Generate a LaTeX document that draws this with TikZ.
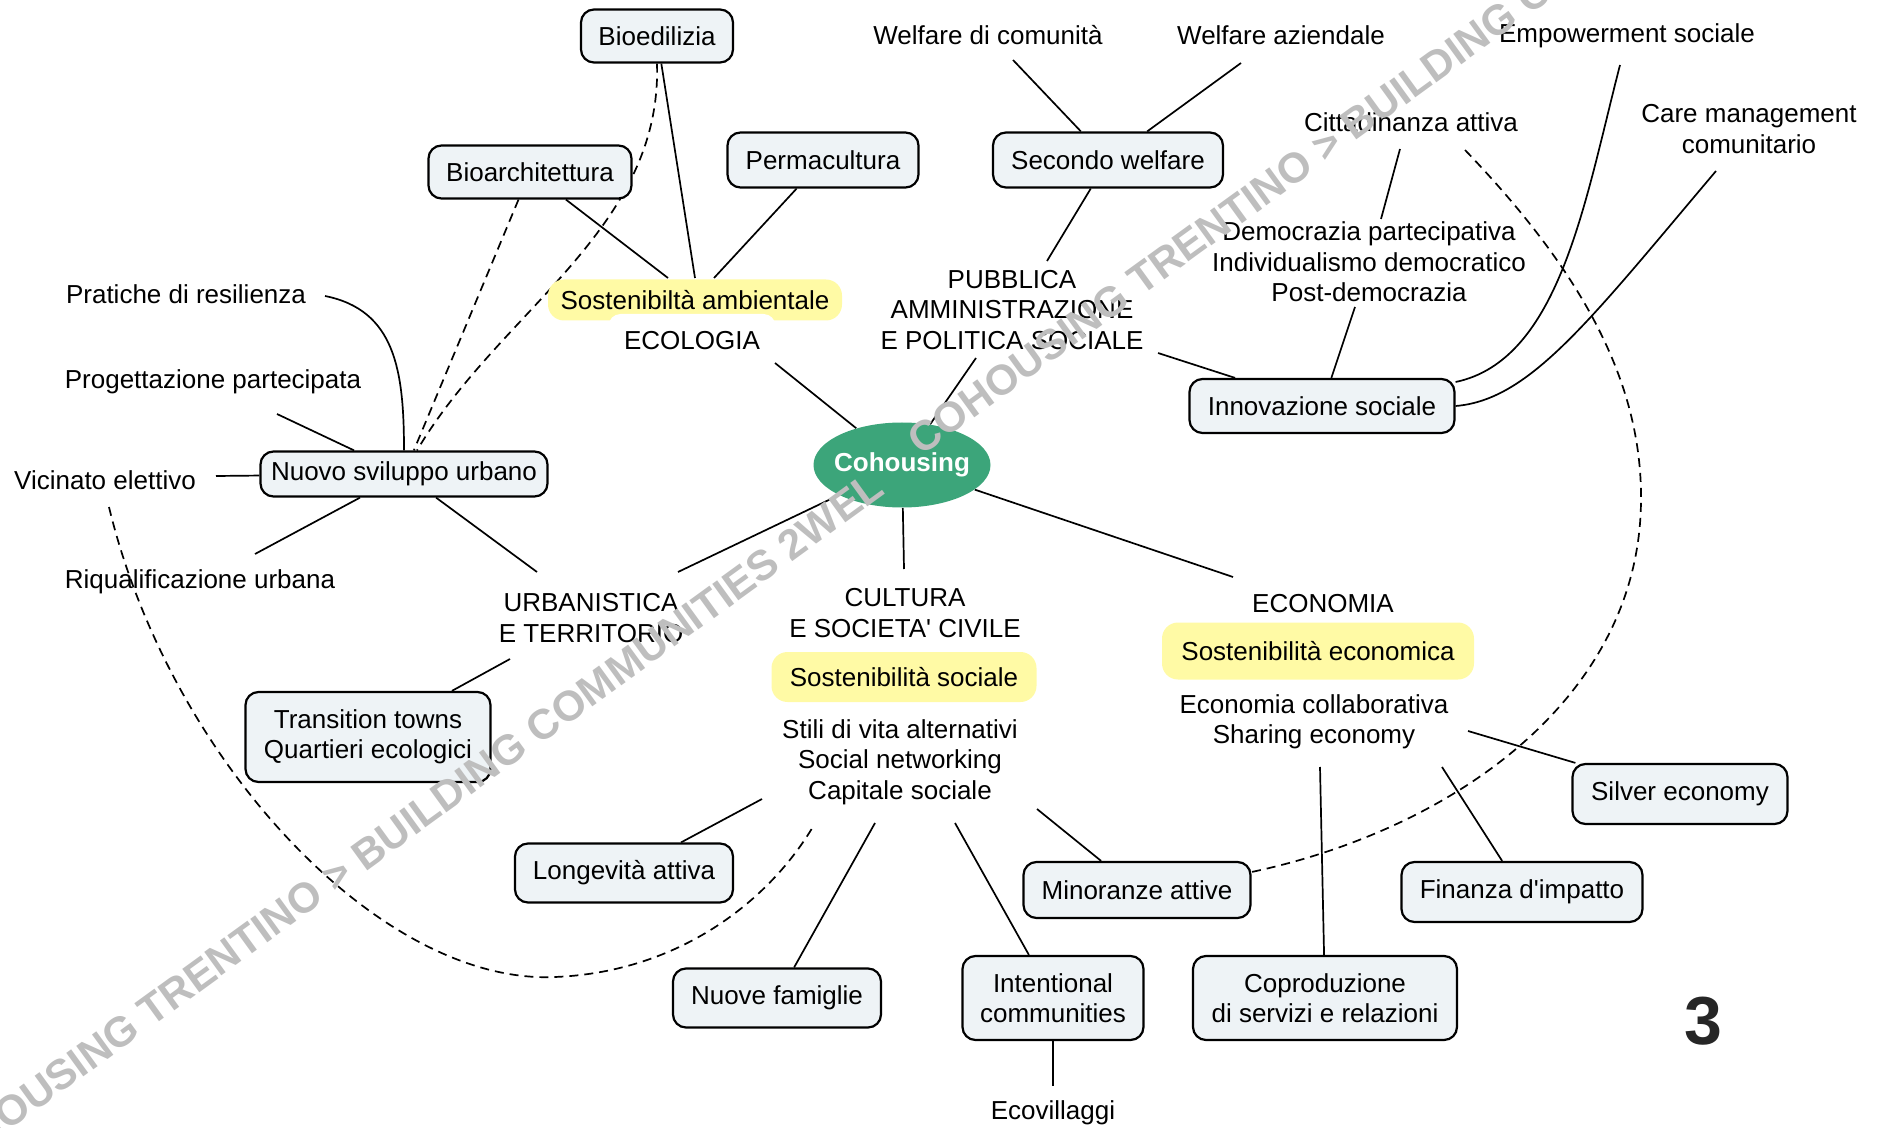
\documentclass[tikz,border=0pt]{standalone}
\usepackage{fontspec}
\setmainfont{Liberation Sans}[Ligatures=TeXOff]
\newfontfamily\wmfont{Liberation Sans}[Kerning=Off]
\usetikzlibrary{shapes.geometric,calc}
\pgfdeclarelayer{bg}
\pgfsetlayers{bg,main}
\definecolor{boxfill}{HTML}{EEF3F6}
\definecolor{hl}{HTML}{FFFAA5}
\definecolor{cohgreen}{HTML}{3CA57A}
\definecolor{wm}{HTML}{BEBEBE}
\begin{document}
\begin{tikzpicture}[x=0.5pt,y=-0.5pt,
  every node/.style={font=\fontsize{13}{15.2}\selectfont, align=center},
  box/.style={draw=black, line width=1.1pt, fill=boxfill, rounded corners=6.5pt, inner sep=0pt},
  hlbox/.style={fill=hl, rounded corners=8pt, inner sep=0pt},
  lbl/.style={inner sep=0pt},
  conn/.style={line width=0.85pt},
  dconn/.style={line width=0.85pt, dash pattern=on 4.5pt off 3pt},
  wmark/.style={text=wm, font=\wmfont\bfseries\fontsize{21.1}{25}\selectfont, rotate=36, inner sep=0pt}
]
\useasboundingbox (0,0) rectangle (1885,1128);

% boxes
\node[box, minimum width=76pt, minimum height=26.5pt] (bioed) at (657,36) {Bioedilizia};
\node[box, minimum width=101.5pt, minimum height=26.5pt] (bioar) at (530,172) {Bioarchitettura};
\node[box, minimum width=95.5pt, minimum height=27.5pt] (perma) at (823,160) {Permacultura};
\node[box, minimum width=115pt, minimum height=27.5pt] (secw) at (1108,160) {Secondo welfare};
\node[box, minimum width=132.5pt, minimum height=27pt] (innov) at (1322,406) {Innovazione sociale};
\node[box, minimum width=143.5pt, minimum height=22.5pt] (nsu) at (404,474) {Nuovo sviluppo urbano};
\node[box, minimum width=122.5pt, minimum height=45pt] (trans) at (368,737) {Transition towns\\Quartieri ecologici};
\node[box, minimum width=109pt, minimum height=29.5pt] (longev) at (624,873) {Longevità attiva};
\node[box, minimum width=104pt, minimum height=29.5pt] (nfam) at (777,998) {Nuove famiglie};
\node[box, minimum width=90.5pt, minimum height=42pt] (inten) at (1053,998) {Intentional\\communities};
\node[box, minimum width=113.5pt, minimum height=28pt] (minor) at (1137,890) {Minoranze attive};
\node[box, minimum width=132pt, minimum height=42pt] (copro) at (1325,998) {Coproduzione\\di servizi e relazioni};
\node[box, minimum width=120.5pt, minimum height=30pt] (finan) at (1522,892) {Finanza d'impatto};
\node[box, minimum width=107.5pt, minimum height=30pt] (silver) at (1680,794) {Silver economy};

% central node
\node[ellipse, fill=cohgreen, minimum width=88.5pt, minimum height=42.5pt, inner sep=0pt,
      text=white, font=\bfseries\fontsize{13}{15.2}\selectfont] (coh) at (902,465) {\makebox[0pt]{Cohousing}};

% highlighted nodes and labels
\node[hlbox, minimum width=147pt, minimum height=20.5pt] (samb) at (695,300) {Sostenibiltà ambientale};
\node[fill=white, rounded corners=6pt, minimum width=83.5pt, minimum height=27pt, inner sep=0pt] (ecol) at (692,341) {ECOLOGIA};
\node[hlbox, minimum width=132.5pt, minimum height=25pt] (ssoc) at (904,677) {Sostenibilità sociale};
\node[hlbox, minimum width=156pt, minimum height=28.5pt] (seco) at (1318,651) {Sostenibilità economica};

\node[lbl] (wcom) at (988,35) {Welfare di comunità};
\node[lbl] (waz) at (1281,35) {Welfare aziendale};
\node[lbl] (empow) at (1627,36) {Empowerment sociale};
\node[lbl] (citt) at (1411,122) {Cittadinanza attiva};
\node[lbl] (care) at (1749,129) {Care management\\comunitario};
\node[lbl] (demo) at (1369,262) {Democrazia partecipativa\\Individualismo democratico\\Post-democrazia};
\node[lbl] (pubb) at (1012,310) {PUBBLICA\\AMMINISTRAZIONE\\E POLITICA SOCIALE};
\node[lbl] (prat) at (186,294) {Pratiche di resilienza};
\node[lbl] (prog) at (213,382) {Progettazione partecipata};
\node[lbl] (vicin) at (105,480) {Vicinato elettivo};
\node[lbl] (riq) at (200,582) {Riqualificazione urbana};
\node[lbl] (urb) at (591,618) {URBANISTICA\\E TERRITORIO};
\node[lbl] (cult) at (905,613) {CULTURA\\E SOCIETA' CIVILE};
\node[lbl] (stili) at (900,762) {Stili di vita alternativi\\Social networking\\Capitale sociale};
\node[lbl] (econ) at (1323,604) {ECONOMIA};
\node[lbl] (ecoll) at (1314,722) {Economia collaborativa\\Sharing economy};
\node[lbl] (ecovil) at (1053,1113) {Ecovillaggi};
\node[font=\bfseries\fontsize{34}{40}\selectfont, text=black!85, inner sep=0pt] (num) at (1703,1021) {3};

% connectors (behind the nodes)
\begin{pgfonlayer}{bg}
\coordinate (eEco) at (775,363);
\coordinate (ePubbB) at (976,358);
\coordinate (eUrbR) at (678,572);
\coordinate (eCultT) at (904,569);
\coordinate (eEconT) at (1233,577);
\coordinate (eAmbL) at (668,278);
\coordinate (eAmbT) at (695,278);
\coordinate (eAmbR) at (714,278);
\coordinate (eWcom) at (1013,60);
\coordinate (eWaz) at (1241,63);
\coordinate (ePubbT) at (1047,261);
\coordinate (ePubbR) at (1158,353);
\coordinate (eDemoB) at (1355,307);
\coordinate (eDemoT) at (1381,219);
\coordinate (eCitt) at (1400,149);
\coordinate (eEmpow) at (1620,65);
\coordinate (eCare) at (1716,171);
\coordinate (ePrat) at (325,296);
\coordinate (eProg) at (277,414);
\coordinate (eVicin) at (216,476);
\coordinate (eRiq) at (255,554);
\coordinate (eUrbL) at (537,572);
\coordinate (eUrbB) at (510,659);
\coordinate (eSt1) at (762,799);
\coordinate (eSt2) at (875,823);
\coordinate (eSt3) at (955,823);
\coordinate (eSt4) at (1037,809);
\coordinate (eEc1) at (1320,767);
\coordinate (eEc2) at (1442,767);
\coordinate (eEc3) at (1468,731);
\coordinate (eEcovil) at (1053,1086);
\coordinate (dVicin) at (109,507);
\coordinate (dStili) at (814,825);
\coordinate (dCitt) at (1465,150);

\draw[conn] (coh) -- (eEco);
\draw[conn] (coh) -- (ePubbB);
\draw[conn] (coh) -- (eUrbR);
\draw[conn] (coh) -- (eCultT);
\draw[conn] (coh) -- (eEconT);
\draw[conn] (eAmbL) -- (bioar);
\draw[conn] (eAmbT) -- (bioed);
\draw[conn] (eAmbR) -- (perma);
\draw[conn] (eWcom) -- (secw);
\draw[conn] (eWaz) -- (secw);
\draw[conn] (ePubbT) -- (secw);
\draw[conn] (ePubbR) -- (innov);
\draw[conn] (eDemoB) -- (innov);
\draw[conn] (eCitt) -- (eDemoT);
\draw[conn] ([yshift=12pt]innov.east) .. controls (1560,360) and (1585,200) .. (eEmpow);
\draw[conn] (innov.east) .. controls (1530,400) and (1590,320) .. (eCare);
\draw[conn] (nsu.north) .. controls (404,370) and (395,310) .. (ePrat);
\draw[conn] (eProg) -- (nsu);
\draw[conn] (eVicin) -- (nsu);
\draw[conn] (eRiq) -- (nsu);
\draw[conn] (eUrbL) -- (nsu);
\draw[conn] (eUrbB) -- (trans);
\draw[conn] (eSt1) -- (longev);
\draw[conn] (eSt2) -- (nfam);
\draw[conn] (eSt3) -- (inten);
\draw[conn] (eSt4) -- (minor);
\draw[conn] (eEc1) -- (copro);
\draw[conn] (eEc2) -- (finan);
\draw[conn] (eEc3) -- (silver);
\draw[conn] (inten) -- (eEcovil);

\draw[dconn] (bioed.south) .. controls (662,230) and (500,310) .. ([xshift=6.5pt]nsu.north);
\draw[dconn] (bioar) -- (nsu);
\draw[dconn] (dVicin) .. controls (170,760) and (380,985) .. (555,977)
                      .. controls (680,972) and (770,900) .. (dStili);
\draw[dconn] (dCitt) .. controls (1580,270) and (1642,380) .. (1641,500)
                     .. controls (1640,700) and (1450,830) .. ([yshift=9pt]minor.east);
\end{pgfonlayer}

% watermark
\begin{scope}
\clip (0,0) rectangle (1885,1128);
\node[wmark, anchor=base east] (wm1) at (887,493) {COHOUSING TRENTINO > BUILDING COMMUNITIES 2WEL};
\node[wmark, anchor=base west] (wm2) at (921,457) {COHOUSING TRENTINO > BUILDING COMMUNITIES 2WEL};
\end{scope}
\end{tikzpicture}
\end{document}
